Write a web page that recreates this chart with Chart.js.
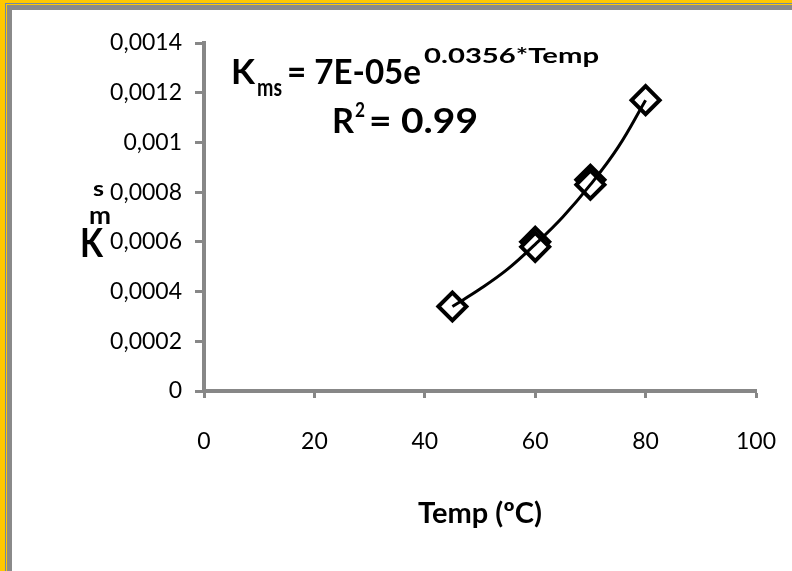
<!DOCTYPE html>
<html lang="en">
<head>
    <meta charset="UTF-8">
    <title>Kms vs Temp</title>
    <style>
        html, body {
            margin: 0;
            padding: 0;
            background: #fff;
        }

        #frame {
            position: relative;
            width: 792px;
            height: 571px;
            overflow: hidden;
        }

        /* picture frame, only left and top edges show */
        .edge {
            position: absolute;
            right: 0;
            bottom: 0;
        }
        .e1 { left: 0;    top: 0;    background: #ffc800; }
        .e2 { left: 5px;  top: 3px;  background: #7088a8; }
        .e3 { left: 6px;  top: 4px;  background: #ffc800; }
        .e4 { left: 7px;  top: 5px;  background: #8a8a8a; }
        .e5 { left: 12px; top: 10px; background: #fff; }

        #chart-box {
            position: absolute;
            left: 0;
            top: 0;
            width: 792px;
            height: 571px;
        }
    </style>
</head>
<body>
    <div id="frame">
        <div class="edge e1"></div>
        <div class="edge e2"></div>
        <div class="edge e3"></div>
        <div class="edge e4"></div>
        <div class="edge e5"></div>
        <div id="chart-box">
            <canvas id="kms-chart"></canvas>
        </div>
    </div>

    <script src="https://cdn.jsdelivr.net/npm/chart.js"></script>
    <script>
        const xTickLabels = ['0', '20', '40', '60', '80', '100'];
        const yTickLabels = ['0', '0,0002', '0,0004', '0,0006', '0,0008', '0,001', '0,0012', '0,0014'];

        // measured points (duplicates at 60 and 70 ºC)
        const tempC = [45, 60, 60, 70, 70, 80];
        const kms = [0.00034, 0.00060, 0.00058, 0.00085, 0.00083, 0.00117];

        // exponential trendline
        const trendTemp = [45, 50, 55, 60, 65, 70, 75, 80];
        const trendKms = [0.00034, 0.00041, 0.00049, 0.00059, 0.00070, 0.00083, 0.00098, 0.00117];

        const axisGrey = '#878787';
        const FONT = 'Lato, "Open Sans", sans-serif';

        // draw text from x, squeezed or stretched to a given width
        function fitText(ctx, text, x, y, size, width) {
            ctx.font = `bold ${size}px ${FONT}`;
            const w = ctx.measureText(text).width;
            const sx = width ? width / w : 1;
            ctx.save();
            ctx.translate(x, y);
            ctx.scale(sx, 1);
            ctx.fillText(text, 0, 0);
            ctx.restore();
        }

        const labelsPlugin = {
            id: 'labels',
            afterDraw(chart) {
                const ctx = chart.ctx;
                ctx.save();
                ctx.fillStyle = '#000';
                ctx.textAlign = 'left';
                ctx.textBaseline = 'alphabetic';

                // trendline equation
                fitText(ctx, 'K', 231, 84, 34, 24);
                fitText(ctx, 'ms', 257, 96, 25, 25);
                fitText(ctx, '= 7E-05e', 287, 84, 34, 134);
                fitText(ctx, '0.0356*Temp', 424, 63, 21, 175);

                fitText(ctx, 'R', 332, 133, 34, 22);
                fitText(ctx, '2', 355, 117, 21, 10);
                fitText(ctx, '= 0.99', 369, 133, 34, 109);

                // y axis title, stacked glyphs
                fitText(ctx, 's', 93, 196, 21, 11);
                fitText(ctx, 'm', 89, 224, 25, 22);
                fitText(ctx, 'K', 80, 257, 41, 23);

                ctx.restore();
            }
        };

        const ctx = document.getElementById('kms-chart').getContext('2d');

        new Chart(ctx, {
            type: 'scatter',
            data: {
                datasets: [
                    {
                        label: 'trend',
                        data: trendTemp.map((t, i) => ({ x: t, y: trendKms[i] })),
                        showLine: true,
                        borderColor: '#000',
                        borderWidth: 3,
                        tension: 0.4,
                        pointRadius: 0,
                        fill: false,
                        order: 0
                    },
                    {
                        label: 'Kms',
                        data: tempC.map((t, i) => ({ x: t, y: kms[i] })),
                        showLine: false,
                        pointStyle: 'rectRot',
                        pointRadius: 14,
                        pointBorderWidth: 4,
                        pointBorderColor: '#000',
                        pointBackgroundColor: '#fff',
                        order: 1
                    }
                ]
            },
            options: {
                responsive: true,
                maintainAspectRatio: false,
                animation: false,
                events: [],
                layout: {
                    autoPadding: false,
                    padding: { top: 43, right: 36, left: 0, bottom: 0 }
                },
                plugins: {
                    legend: { display: false },
                    tooltip: { enabled: false }
                },
                scales: {
                    x: {
                        type: 'linear',
                        min: 0,
                        max: 100,
                        afterFit: s => {
                            s.height = 180;
                            s.paddingLeft = 0;
                            s.paddingRight = 0;
                        },
                        ticks: {
                            stepSize: 20,
                            autoSkip: false,
                            maxRotation: 0,
                            callback: (v, i) => xTickLabels[i],
                            color: '#000',
                            font: { family: FONT, size: 23 },
                            padding: 30
                        },
                        grid: {
                            drawOnChartArea: false,
                            drawTicks: true,
                            tickLength: 7,
                            tickWidth: 3,
                            tickColor: axisGrey
                        },
                        border: { display: true, color: axisGrey, width: 4 },
                        title: {
                            display: true,
                            text: 'Temp (ºC)',
                            color: '#000',
                            font: { family: FONT, size: 29, weight: 'bold' },
                            padding: { top: 0, bottom: 40 }
                        }
                    },
                    y: {
                        min: 0,
                        max: 0.0014,
                        afterFit: s => { s.width = 204; },
                        ticks: {
                            stepSize: 0.0002,
                            callback: (v, i) => yTickLabels[i],
                            color: '#000',
                            font: { family: FONT, size: 23 },
                            padding: 13
                        },
                        grid: {
                            drawOnChartArea: false,
                            drawTicks: true,
                            tickLength: 9,
                            tickWidth: 3,
                            tickColor: axisGrey
                        },
                        border: { display: true, color: axisGrey, width: 4 }
                    }
                }
            },
            plugins: [labelsPlugin]
        });
    </script>
</body>
</html>
